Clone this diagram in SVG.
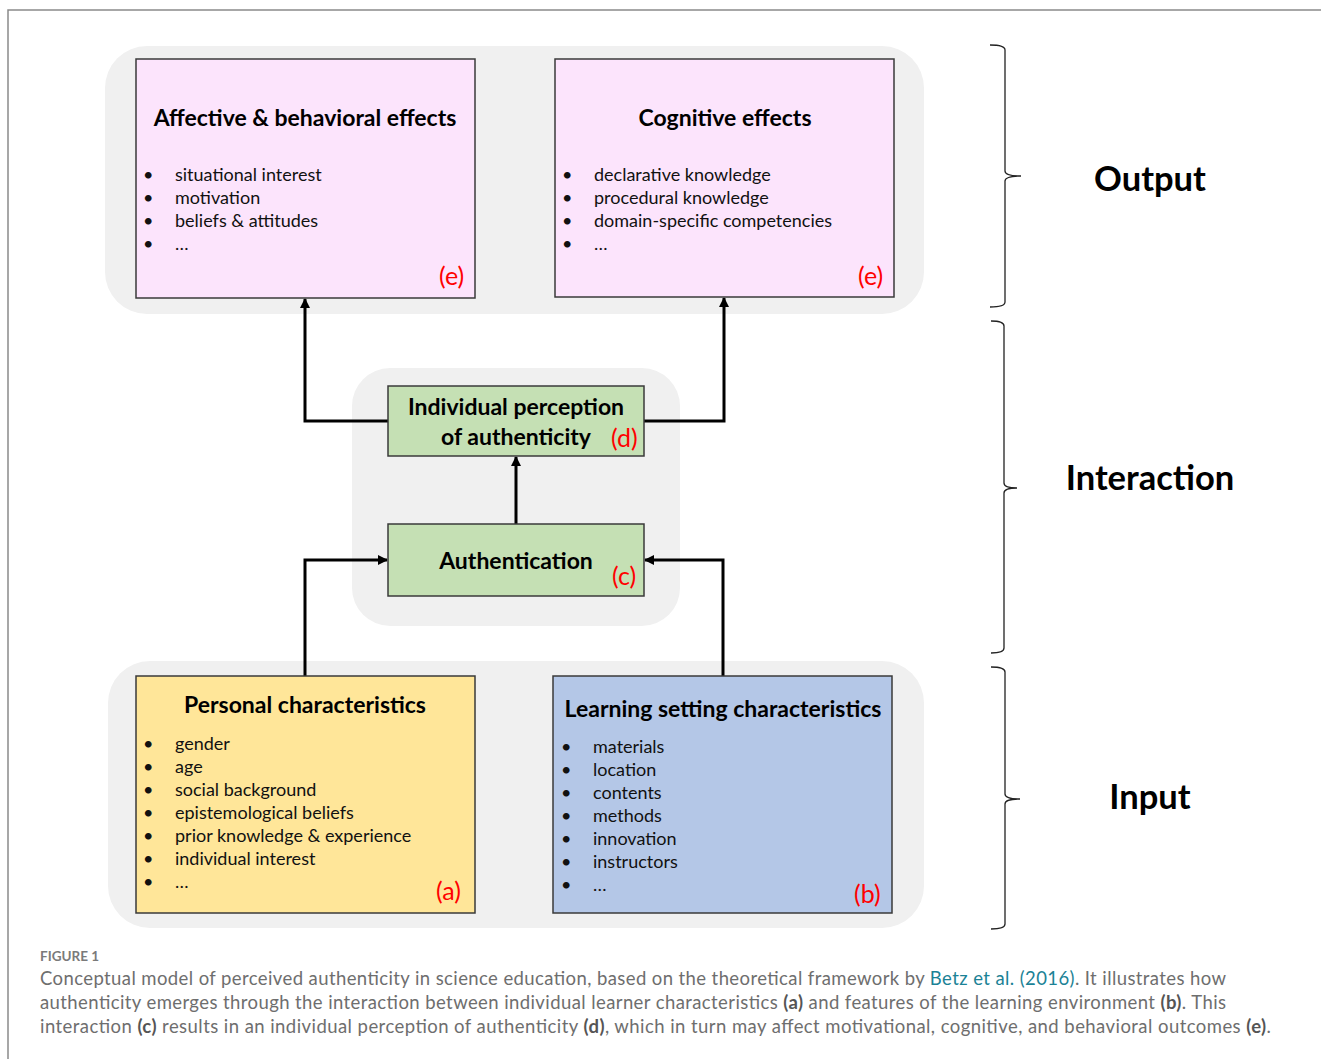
<svg xmlns="http://www.w3.org/2000/svg" width="1321" height="1059" viewBox="0 0 1321 1059">
<style>
.panel{fill:#f0f0f0;}
.box{stroke:#3a3a3a;stroke-width:1.5;}
.pink{fill:#fce4fc;}
.green{fill:#c5e0b4;}
.yellow{fill:#ffe699;}
.blue{fill:#b4c7e7;}
.title{font-family:Lato,"Open Sans",sans-serif;font-weight:bold;font-size:23px;fill:#000;text-anchor:middle;}
.item{font-family:Lato,"Open Sans",sans-serif;font-size:18px;fill:#111;}
.tag{font-family:Lato,"Open Sans",sans-serif;font-size:25px;fill:#ff0000;}
.big{font-family:Lato,"Open Sans",sans-serif;font-weight:bold;font-size:34.5px;fill:#000;text-anchor:middle;}
.conn{fill:none;stroke:#000;stroke-width:3;}
.brace{fill:none;stroke:#222;stroke-width:1.3;}
.cap{font-family:Lato,"Open Sans",sans-serif;font-weight:normal;font-size:18.5px;fill:#6e6e6e;}
.capb{font-weight:bold;fill:#555;}
.link{fill:#1b8296;}
</style>
<defs>
<marker id="ah" markerWidth="10" markerHeight="10" refX="9" refY="5" orient="auto" markerUnits="userSpaceOnUse">
<path d="M0,0 L10,5 L0,10 Z" fill="#000"/>
</marker>
</defs>
<rect width="1321" height="1059" fill="#fff"/>
<path d="M8,1059 V10 H1321" fill="none" stroke="#8a8a8a" stroke-width="1.5"/>

<g id="panels">
<rect class="panel" x="105" y="46" width="819" height="268" rx="42"/>
<rect class="panel" x="352" y="368" width="328" height="258" rx="38"/>
<rect class="panel" x="108" y="661" width="816" height="267" rx="42"/>
</g>

<g id="connectors">
<path class="conn" d="M388,421 H305 V299" marker-end="url(#ah)"/>
<path class="conn" d="M644,421 H724 V298" marker-end="url(#ah)"/>
<path class="conn" d="M516,524 V457" marker-end="url(#ah)"/>
<path class="conn" d="M305,676 V560 H387" marker-end="url(#ah)"/>
<path class="conn" d="M723,676 V560 H645" marker-end="url(#ah)"/>
</g>

<g id="affective">
<rect class="box pink" x="136" y="59" width="339" height="239"/>
<text class="title" x="305" y="126">Affective &amp; behavioral effects</text>
<g class="item">
<text x="143" y="181">•</text><text x="175" y="181">situational interest</text>
<text x="143" y="204">•</text><text x="175" y="204">motivation</text>
<text x="143" y="227">•</text><text x="175" y="227">beliefs &amp; attitudes</text>
<text x="143" y="250">•</text><text x="175" y="250">…</text>
</g>
<text class="tag" x="439" y="285">(e)</text>
</g>

<g id="cognitive">
<rect class="box pink" x="555" y="59" width="339" height="238"/>
<text class="title" x="725" y="126">Cognitive effects</text>
<g class="item">
<text x="562" y="181">•</text><text x="594" y="181">declarative knowledge</text>
<text x="562" y="204">•</text><text x="594" y="204">procedural knowledge</text>
<text x="562" y="227">•</text><text x="594" y="227">domain-specific competencies</text>
<text x="562" y="250">•</text><text x="594" y="250">…</text>
</g>
<text class="tag" x="858" y="285">(e)</text>
</g>

<g id="perception">
<rect class="box green" x="388" y="386" width="256" height="70"/>
<text class="title" x="516" y="415">Individual perception</text>
<text class="title" x="516" y="445">of authenticity</text>
<text class="tag" x="611" y="447">(d)</text>
</g>

<g id="authentication">
<rect class="box green" x="388" y="524" width="256" height="72"/>
<text class="title" x="516" y="569">Authentication</text>
<text class="tag" x="612" y="585">(c)</text>
</g>

<g id="personal">
<rect class="box yellow" x="136" y="676" width="339" height="237"/>
<text class="title" x="305" y="713">Personal characteristics</text>
<g class="item">
<text x="143" y="750">•</text><text x="175" y="750">gender</text>
<text x="143" y="773">•</text><text x="175" y="773">age</text>
<text x="143" y="796">•</text><text x="175" y="796">social background</text>
<text x="143" y="819">•</text><text x="175" y="819">epistemological beliefs</text>
<text x="143" y="842">•</text><text x="175" y="842">prior knowledge &amp; experience</text>
<text x="143" y="865">•</text><text x="175" y="865">individual interest</text>
<text x="143" y="888">•</text><text x="175" y="888">…</text>
</g>
<text class="tag" x="436" y="900">(a)</text>
</g>

<g id="learning">
<rect class="box blue" x="553" y="676" width="339" height="237"/>
<text class="title" x="723" y="717">Learning setting characteristics</text>
<g class="item">
<text x="561" y="753">•</text><text x="593" y="753">materials</text>
<text x="561" y="776">•</text><text x="593" y="776">location</text>
<text x="561" y="799">•</text><text x="593" y="799">contents</text>
<text x="561" y="822">•</text><text x="593" y="822">methods</text>
<text x="561" y="845">•</text><text x="593" y="845">innovation</text>
<text x="561" y="868">•</text><text x="593" y="868">instructors</text>
<text x="561" y="891">•</text><text x="593" y="891">…</text>
</g>
<text class="tag" x="854" y="903">(b)</text>
</g>

<g id="braces">
<path class="brace" d="M990,45 Q1005,45 1005,50 V171 Q1005,176 1021,176 Q1005,176 1005,181 V302 Q1005,307 990,307"/>
<path class="brace" d="M991,321 Q1004,321 1004,326 V483 Q1004,488 1017,488 Q1004,488 1004,493 V648 Q1004,653 991,653"/>
<path class="brace" d="M991,667 Q1005,667 1005,672 V794 Q1005,799 1020,799 Q1005,799 1005,804 V924 Q1005,929 991,929"/>
</g>

<g id="labels">
<text class="big" x="1150" y="191">Output</text>
<text class="big" x="1150" y="490">Interaction</text>
<text class="big" x="1150" y="809">Input</text>
</g>

<g id="caption">
<text x="40" y="961" font-family="Lato,'Open Sans',sans-serif" font-size="13.5" font-weight="bold" fill="#7a7a7a">FIGURE 1</text>
<text class="cap" x="40" y="985" textLength="1186" lengthAdjust="spacing">Conceptual model of perceived authenticity in science education, based on the theoretical framework by <tspan class="link">Betz et al. (2016)</tspan>. It illustrates how</text>
<text class="cap" x="40" y="1009" textLength="1186" lengthAdjust="spacing">authenticity emerges through the interaction between individual learner characteristics <tspan class="capb">(a)</tspan> and features of the learning environment <tspan class="capb">(b)</tspan>. This</text>
<text class="cap" x="40" y="1033" textLength="1231" lengthAdjust="spacing">interaction <tspan class="capb">(c)</tspan> results in an individual perception of authenticity <tspan class="capb">(d)</tspan>, which in turn may affect motivational, cognitive, and behavioral outcomes <tspan class="capb">(e)</tspan>.</text>
</g>
</svg>
